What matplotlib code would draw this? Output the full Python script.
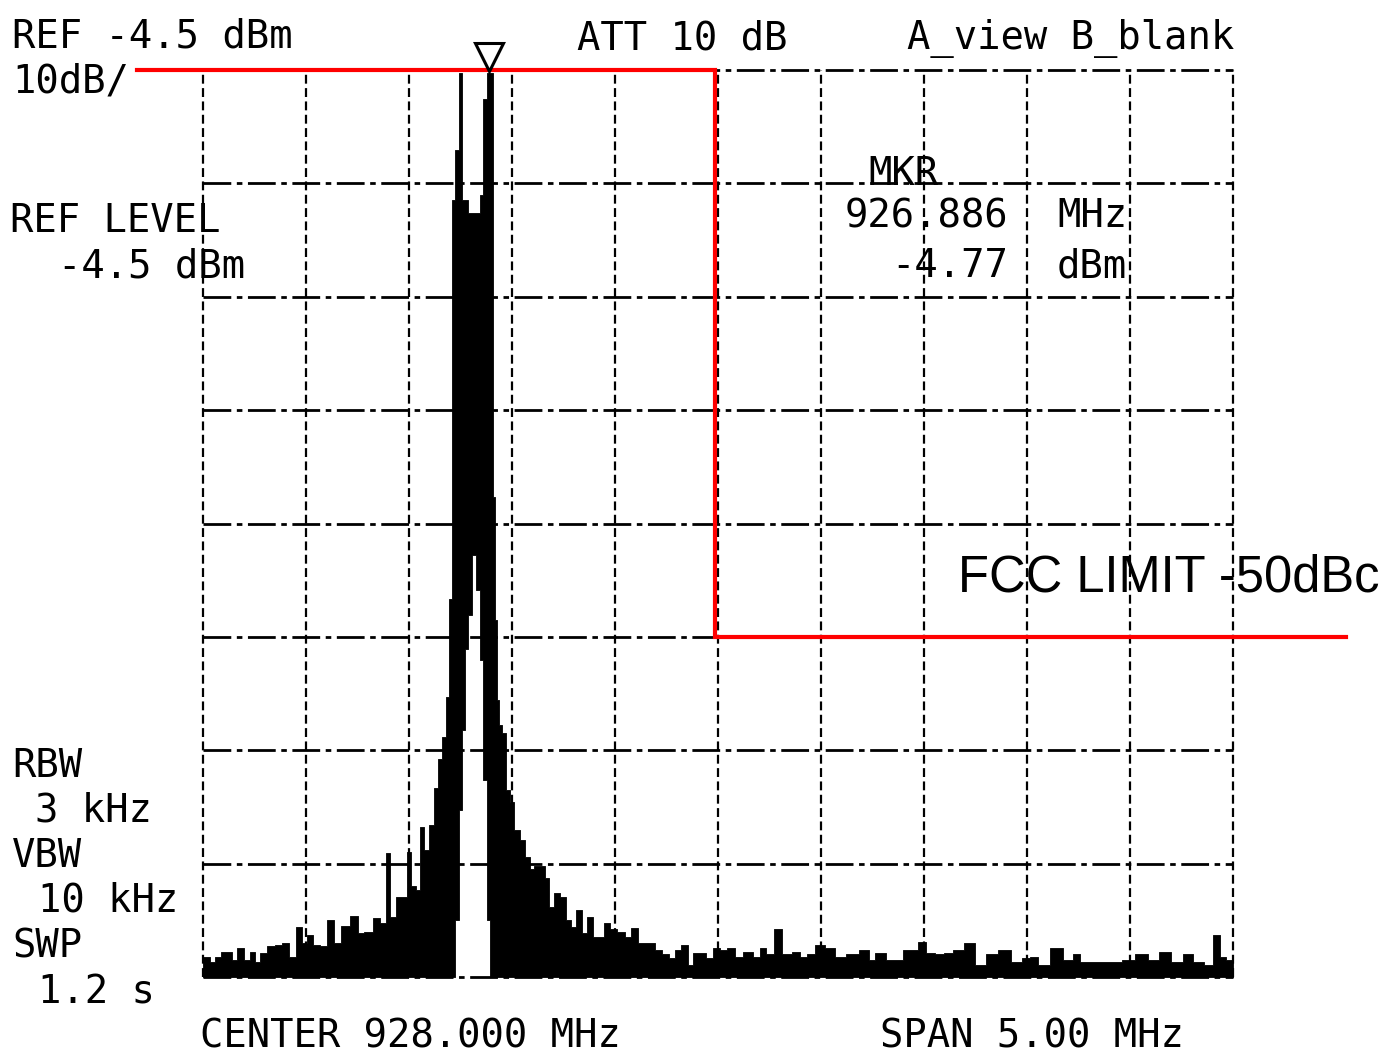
import matplotlib
matplotlib.use('Agg')
import matplotlib.pyplot as plt

# Analyzer settings
center_mhz = 928.0
span_mhz = 5.0
ref_dbm = -4.5
db_per_div = 10
n_xdiv = 10
n_ydiv = 8

# Trace (upper envelope)
trace_freq = [
    925.500, 925.519, 925.549, 925.568, 925.607, 925.631, 925.646, 925.680,
    925.714, 925.738, 925.762, 925.791, 925.835, 925.864, 925.903, 925.932,
    925.971, 925.995, 926.019, 926.053, 926.083, 926.121, 926.155, 926.189,
    926.238, 926.262, 926.301, 926.345, 926.374, 926.398, 926.422, 926.456,
    926.481, 926.500, 926.524, 926.544, 926.563, 926.587, 926.612, 926.631,
    926.650, 926.670, 926.689, 926.704, 926.718, 926.733, 926.748, 926.762,
    926.777, 926.796, 926.816, 926.835, 926.850, 926.869, 926.888, 926.898,
    926.913, 926.922, 926.932, 926.942, 926.961, 926.981, 927.000, 927.024,
    927.049, 927.073, 927.097, 927.121, 927.146, 927.170, 927.194, 927.218,
    927.248, 927.272, 927.296, 927.330, 927.354, 927.379, 927.403, 927.437,
    927.461, 927.490, 927.534, 927.563, 927.597, 927.631, 927.680, 927.709,
    927.743, 927.777, 927.801, 927.840, 927.864, 927.898, 927.927, 927.961,
    927.995, 928.024, 928.068, 928.097, 928.146, 928.189, 928.214, 928.252,
    928.291, 928.335, 928.383, 928.413, 928.447, 928.495, 928.544, 928.592,
    928.655, 928.714, 928.752, 928.777, 928.850, 928.942, 928.995, 929.029,
    929.078, 929.117, 929.165, 929.223, 929.272, 929.330, 929.393, 929.451,
    929.500, 929.529, 929.578, 929.650, 929.699, 929.743, 929.772, 929.840,
    929.888, 929.937, 929.990, 930.063, 930.112, 930.170, 930.228, 930.282,
    930.330, 930.388, 930.422, 930.451, 930.485, 930.500,
]
trace_top = [
    -82.7, -82.7, -83.2, -82.7, -82.3, -82.3, -83.0, -81.9,
    -83.0, -82.3, -83.2, -82.4, -81.8, -81.7, -81.5, -82.7,
    -80.1, -81.5, -80.8, -81.7, -81.8, -79.5, -81.5, -80.0,
    -79.1, -80.6, -80.5, -79.3, -79.7, -73.6, -79.2, -77.4,
    -77.4, -73.5, -76.5, -76.8, -71.3, -73.3, -71.1, -67.8,
    -65.3, -63.3, -59.8, -51.2, -16.0, -11.6, -4.8, -16.0,
    -16.0, -17.1, -17.1, -17.1, -15.5, -7.1, -4.8, -4.8,
    -42.2, -53.0, -60.1, -62.3, -63.0, -68.0, -69.1, -71.5,
    -72.4, -73.9, -75.0, -74.7, -74.7, -75.8, -78.3, -77.1,
    -77.4, -79.5, -80.1, -78.6, -80.6, -79.2, -81.0, -81.0,
    -79.7, -80.3, -80.5, -81.0, -80.2, -81.5, -81.5, -82.1,
    -82.5, -82.8, -82.1, -81.7, -83.4, -82.4, -82.4, -82.8,
    -81.9, -82.1, -81.9, -82.7, -82.3, -82.7, -81.9, -82.5,
    -80.3, -82.5, -82.3, -82.7, -82.5, -81.7, -81.9, -82.7,
    -82.5, -82.1, -83.0, -82.4, -83.0, -82.1, -81.4, -82.4,
    -82.5, -82.4, -82.1, -81.5, -83.4, -82.5, -82.1, -83.2,
    -82.8, -82.7, -83.4, -81.9, -83.0, -82.5, -83.2, -83.2,
    -83.2, -83.2, -83.0, -82.5, -83.0, -82.3, -83.2, -82.5,
    -83.2, -83.4, -80.8, -82.7, -83.0, -83.0,
]

# Empty notch between the two FSK tones (lower edge of the trace there)
gap_freq = [926.733, 926.748, 926.762, 926.777, 926.796, 926.816,
            926.835, 926.850, 926.869, 926.888]
gap_bottom = [-79.5, -69.8, -62.7, -55.6, -52.6, -47.3,
              -50.4, -56.5, -67.1, -79.5]

# FCC mask
limit_freq = [925.18, 927.985, 927.985, 931.05]
limit_dbm = [-4.5, -4.5, -54.5, -54.5]

marker_freq = 926.886
marker_dbm = -4.77

f_lo = center_mhz - span_mhz / 2
f_hi = center_mhz + span_mhz / 2
floor_dbm = ref_dbm - db_per_div * n_ydiv

gap = dict(zip(gap_freq, gap_bottom))
trace_bottom = [gap.get(f, floor_dbm) for f in trace_freq]

W, H = 1390, 1057
fig = plt.figure(figsize=(W / 100, H / 100), dpi=100)
ax = fig.add_axes([203 / W, 1 - 977 / H, 1030 / W, 907 / H])
ax.set_xlim(f_lo, f_hi)
ax.set_ylim(floor_dbm, ref_dbm)
ax.axis('off')

# graticule
for i in range(n_xdiv + 1):
    ax.axvline(f_lo + i * span_mhz / n_xdiv, color='black', lw=1.6,
               ls=(0, (4, 2)), zorder=3, clip_on=False)
for j in range(n_ydiv + 1):
    ax.axhline(ref_dbm - j * db_per_div, color='black', lw=2.0,
               ls=(0, (10, 2, 2, 2)), zorder=3, clip_on=False)

# trace
ax.fill_between(trace_freq, trace_bottom, trace_top, step='mid',
                color='black', lw=0.6, zorder=2)

# limit line
ax.plot(limit_freq, limit_dbm, color='#ff0000', lw=3.0, zorder=5,
        clip_on=False, solid_joinstyle='miter')

# marker symbol above the trace peak
ax.plot([marker_freq], [ref_dbm + 1.15], marker='v', ms=20, mfc='white',
        mec='black', mew=2.2, zorder=6, clip_on=False)

mono = dict(family='DejaVu Sans Mono', size=28, color='black', va='baseline')


def put(x, y, s, ha='left'):
    fig.text(x / W, 1 - y / H, s, ha=ha, **mono)


put(12, 47, 'REF -4.5 dBm')
put(12, 93, '10dB/')
put(577, 49, 'ATT 10 dB')
put(907, 49, 'A_view B_blank')
put(10, 232, 'REF LEVEL')
put(58, 277, '-4.5 dBm')
put(868, 185, 'MKR')
put(1008, 227, '926.886', ha='right')
put(1057, 227, 'MHz')
put(1008, 277, f'{marker_dbm:.2f}', ha='right')
put(1057, 277, 'dBm')
put(12, 777, 'RBW')
put(35, 822, '3 kHz')
put(12, 867, 'VBW')
put(38, 911, '10 kHz')
put(12, 957, 'SWP')
put(38, 1003, '1.2 s')
put(200, 1048, f'CENTER {center_mhz:.3f} MHz')
put(880, 1048, f'SPAN {span_mhz:.2f} MHz')

fig.text(958 / W, 1 - 592 / H, 'FCC LIMIT -50dBc', family='Liberation Sans',
         size=36.5, color='black', va='baseline', ha='left')

fig.savefig('out.png', dpi=100)
plt.close(fig)
